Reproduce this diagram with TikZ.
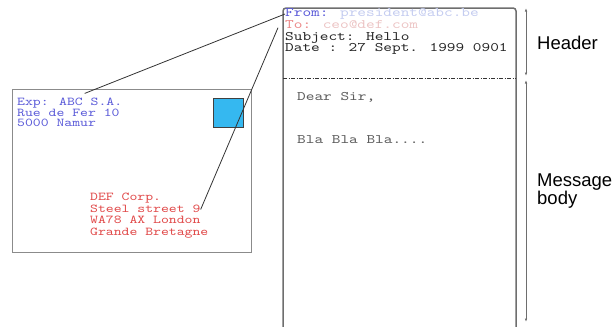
\documentclass[tikz,border=0pt]{standalone}
\usepackage{fontspec}
\setmainfont{Liberation Sans}
\newfontfamily\mailfont[Extension=.otf,FakeStretch=1.27]{lmmono10-regular}
\newfontfamily\addrfont[Extension=.otf,FakeStretch=1.25]{lmmono10-regular}
\usetikzlibrary{arrows.meta,positioning,calc}
\definecolor{Frame}{HTML}{6E6E6E}
\definecolor{Sender}{HTML}{5A5AD8}
\definecolor{Receiver}{HTML}{E04848}
\definecolor{FadeBlue}{HTML}{C4CCF0}
\definecolor{FadeRed}{HTML}{ECC4C4}
\definecolor{Stamp}{HTML}{35B8F0}
\definecolor{Body}{HTML}{5C5C5C}
\tikzset{
 line/.style={inner sep=0pt,anchor=west,text=black!85,text height=7.5pt,text depth=2pt,
   font=\fontsize{13}{13}\mailfont},
 addr/.style={line,text height=7pt,text depth=1.8pt,font=\fontsize{12}{12}\addrfont},
 envelope/.style={draw=Frame!80,line width=0.8pt,minimum width=239pt,minimum height=163pt},
 stamp/.style={draw=black!75,fill=Stamp,line width=0.7pt,minimum width=30pt,minimum height=29pt},
 frame/.style={draw=Frame,line width=1.5pt,rounded corners=3pt},
 sep/.style={draw=black!80,line width=0.8pt,dash pattern=on 4pt off 1.5pt on 1pt off 1.5pt},
 link/.style={draw=black!80,line width=0.8pt},
 dim/.style={{Latex[length=3.5pt,width=2.5pt]}-{Latex[length=3.5pt,width=2.5pt]},draw=Frame,line width=0.8pt},
 part/.style={inner sep=0pt,anchor=west,align=left,font=\fontsize{18.5}{17}\selectfont}
}
\begin{document}
\begin{tikzpicture}[x=1pt,y=-1pt]
\useasboundingbox (0,0) rectangle (614,327);
\node[envelope] (env) at (131.5,170.5) {};
\node[stamp] (stamp) at (228,112.5) {};
\node[addr,text=Sender] (exp) at (17,103) {Exp: ABC S.A.};
\node[addr,text=Sender] (street) at (17,113.5) {Rue de Fer 10};
\node[addr,text=Sender] (city) at (17,124) {5000 Namur};
\node[addr,text=Receiver] (corp) at (90,198) {DEF Corp.};
\node[addr,text=Receiver] (steel) at (90,209.5) {Steel street 9};
\node[addr,text=Receiver] (london) at (90,221) {WA78 AX London};
\node[addr,text=Receiver] (country) at (90,232.5) {Grande Bretagne};
\draw[frame] (283,327) -- (283,8) -- (516,8) -- (516,327);
\node[line,text=Sender] (from) at (285,14) {From: \textcolor{FadeBlue}{president@abc.be}};
\node[line,text=Receiver!65] (to) at (285,25.7) {To: \textcolor{FadeRed}{ceo@def.com}};
\node[line] (subj) at (285,37.4) {Subject: Hello};
\node[line] (date) at (285,49.1) {Date : 27 Sept. 1999 0901};
\draw[sep] (283,78) -- (516,78);
\node[line,text=Body] (dear) at (297,98) {Dear Sir,};
\node[line,text=Body] (bla) at (297,141) {Bla Bla Bla....};
\draw[link] (from.west) -- ($(exp.north)+(15,-5)$);
\draw[link] ([xshift=-7pt,yshift=-2pt]to.west) -- (steel.east);
\coordinate (htop) at (526,8);
\coordinate (hbot) at (526,76);
\coordinate (btop) at (526,80);
\coordinate (bbot) at (526,322);
\draw[dim] (htop) -- (hbot);
\draw[dim] (btop) -- (bbot);
\node[part] (hdr) at (537,43) {Header};
\node[part] (msg) at (537,191) {Message\\body};
\end{tikzpicture}
\end{document}
